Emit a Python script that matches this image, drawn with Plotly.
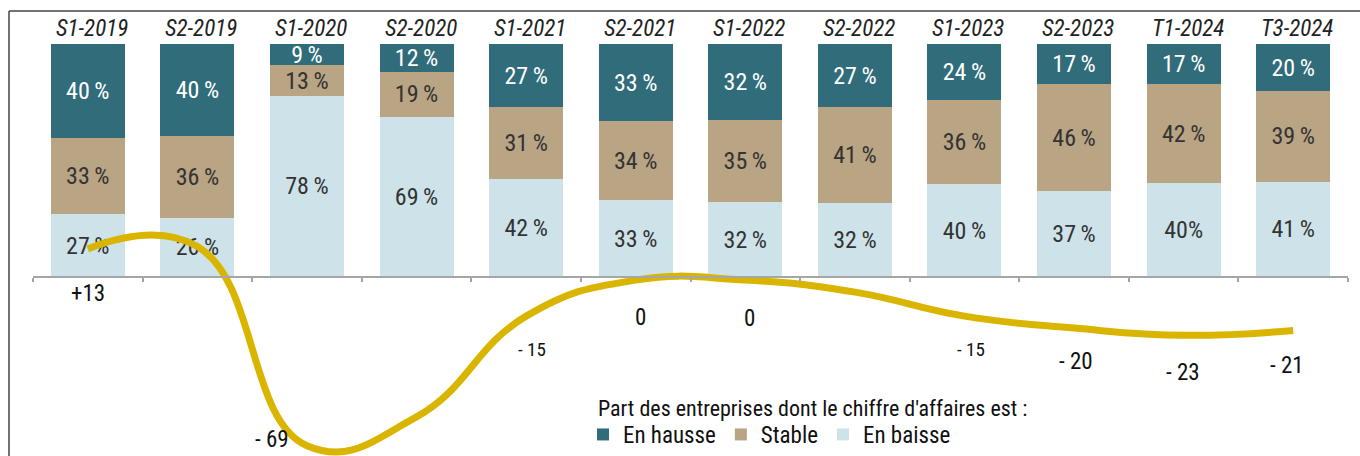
import plotly.graph_objects as go

# ---------------- data ----------------
categories = ["S1-2019", "S2-2019", "S1-2020", "S2-2020", "S1-2021", "S2-2021",
              "S1-2022", "S2-2022", "S1-2023", "S2-2023", "T1-2024", "T3-2024"]
en_hausse = [40, 40, 9, 12, 27, 33, 32, 27, 24, 17, 17, 20]
stable = [33, 36, 13, 19, 31, 34, 35, 41, 36, 46, 42, 39]
en_baisse = [27, 26, 78, 69, 42, 33, 32, 32, 40, 37, 40, 41]
solde = [13, 14, -69, -57, -15, 0, 0, -5, -15, -20, -23, -21]
solde_labels = ["+13", "", "- 69", "", "- 15", "0", "0", "", "- 15", "- 20", "- 23", "- 21"]
legend_title = "Part des entreprises dont le chiffre d'affaires est :"

# ---------------- layout constants ----------------
W, H = 1360, 456
ML, MR, MT, MB = 33, 12, 44, 0
PW, PH = W - ML - MR, H - MT - MB
Y1 = [-76.9, 100.2]
Y2 = [-73.3, 98.4]

FONT = "Roboto Condensed, Liberation Sans Narrow, DejaVu Sans Condensed, Roboto, sans-serif"
C_H, C_S, C_B, C_L = "#306C7A", "#B9A484", "#CDE3E9", "#DAB500"
TXT = "#333333"

# label placement (pixel offsets) and sizes for the balance labels
lab_dx = [0, 0, -35, 0, 6, 5, 4, 0, 7, 2, -1, -6]
lab_dy = [-45, 0, 6, 0, -33, -37, -38, 0, -33, -33, -37, -35]
lab_size = [23, 23, 23, 23, 19, 23, 23, 23, 19, 23, 23, 23]

x = list(range(len(categories)))


def pct(vals, nospace=()):
    return [f"{v}%" if i in nospace else f"{v}\u2009%" for i, v in enumerate(vals)]


fig = go.Figure()
common = dict(textposition="inside", insidetextanchor="middle", constraintext="none",
              cliponaxis=False, marker_line_width=0, hoverinfo="skip")
fig.add_bar(x=x, y=en_baisse, name="En baisse", marker_color=C_B, legendrank=3,
            text=pct(en_baisse, nospace=(10,)), textfont=dict(color=TXT, size=24, family=FONT), **common)
fig.add_bar(x=x, y=stable, name="Stable", marker_color=C_S, legendrank=2,
            text=pct(stable), textfont=dict(color=TXT, size=24, family=FONT), **common)
fig.add_bar(x=x, y=en_hausse, name="En hausse", marker_color=C_H, legendrank=1,
            text=pct(en_hausse), textfont=dict(color="white", size=24, family=FONT), **common)

fig.add_scatter(x=x, y=solde, yaxis="y2", mode="lines", showlegend=False, hoverinfo="skip",
                line=dict(color=C_L, width=7, shape="spline", smoothing=1.3), cliponaxis=False)

for i, (v, t) in enumerate(zip(solde, solde_labels)):
    if t:
        fig.add_annotation(x=i, y=v, xref="x", yref="y2", text=t, showarrow=False,
                           xshift=lab_dx[i], yshift=lab_dy[i],
                           font=dict(size=lab_size[i], color="#111111", family=FONT))

for i, c in enumerate(categories):
    fig.add_annotation(x=i, y=1, xref="x", yref="paper", text=c, showarrow=False,
                       yanchor="bottom", yshift=0, xshift=4,
                       font=dict(size=23, color="#222222", family=FONT, style="italic", weight=400))


def px_x(p):
    return (p - ML) / PW


def px_y(p):
    return (H - MB - p) / PH


fig.add_annotation(x=px_x(596), y=px_y(408), xref="paper", yref="paper", text=legend_title,
                   showarrow=False, xanchor="left", yanchor="middle",
                   font=dict(size=22, color="#111111", family=FONT))

# frame lines (top and left)
fig.add_shape(type="line", xref="paper", yref="paper", x0=px_x(9), x1=px_x(W), y0=px_y(11), y1=px_y(11),
              line=dict(color="#444444", width=1.5))
fig.add_shape(type="line", xref="paper", yref="paper", x0=px_x(9), x1=px_x(9), y0=px_y(11), y1=px_y(H),
              line=dict(color="#444444", width=1.5))

fig.update_layout(
    width=W, height=H, margin=dict(l=ML, r=MR, t=MT, b=MB, autoexpand=False),
    paper_bgcolor="white", plot_bgcolor="white",
    barmode="stack", barnorm="percent", bargap=0.325,
    font=dict(family=FONT, size=23, color="#111111"),
    xaxis=dict(range=[-0.5, 11.5], anchor="free", position=(0 - Y1[0]) / (Y1[1] - Y1[0]),
               showline=True, linecolor="#A6A6A6", linewidth=1.5,
               ticks="outside", tickvals=[k - 0.5 for k in range(len(categories) + 1)],
               ticklen=4, tickcolor="#A6A6A6", tickwidth=1.5,
               showticklabels=False, showgrid=False, zeroline=False, fixedrange=True),
    yaxis=dict(range=Y1, visible=False, fixedrange=True),
    yaxis2=dict(range=Y2, overlaying="y", visible=False, fixedrange=True),
    legend=dict(orientation="h", x=px_x(583), xanchor="left", y=0, yanchor="bottom",
                traceorder="normal", font=dict(size=23, color="#111111"), itemwidth=30,
                tracegroupgap=0, bgcolor="rgba(0,0,0,0)", borderwidth=0),
    showlegend=True,
)

fig.write_html("out.html", config={"displayModeBar": False},
               post_script="document.body.style.margin='0';")
